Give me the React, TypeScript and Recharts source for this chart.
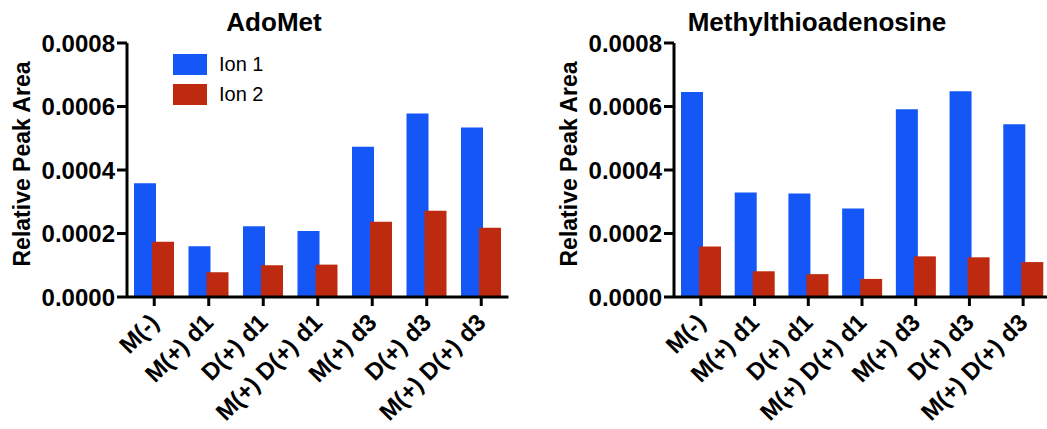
import React from 'react';
import { BarChart, Bar, XAxis, YAxis, Legend } from 'recharts';

const categories = ['M(-)', 'M(+) d1', 'D(+) d1', 'M(+) D(+) d1', 'M(+) d3', 'D(+) d3', 'M(+) D(+) d3'];

const adoMetIon1 = [0.000358, 0.00016, 0.000223, 0.000208, 0.000473, 0.000578, 0.000534];
const adoMetIon2 = [0.000174, 0.000078, 0.0001, 0.000102, 0.000237, 0.000272, 0.000218];

const mtaIon1 = [0.000646, 0.000329, 0.000326, 0.000279, 0.000591, 0.000648, 0.000544];
const mtaIon2 = [0.000159, 0.000081, 0.000072, 0.000057, 0.000128, 0.000125, 0.00011];

const yTicks = [0, 0.0002, 0.0004, 0.0006, 0.0008];

const FONT = '"Liberation Sans", Arial, Helvetica, sans-serif';
const BLUE = '#1457f6';
const RED = '#bd2a0f';

const buildRows = (ion1: number[], ion2: number[]) =>
    categories.map((name, i) => ({ name, ion1: ion1[i], ion2: ion2[i] }));

const AngledTick = (props: any) => {
    const { x, y, payload } = props;
    return (
        <g transform={`translate(${x + 6},${y + 16})`}>
            <text
                transform="rotate(-45)"
                textAnchor="end"
                fontSize={24}
                fontWeight="bold"
                fontFamily={FONT}
                fill="#000"
            >
                {payload.value}
            </text>
        </g>
    );
};

const YLabel = (props: any) => {
    const { x, y, height } = props.viewBox;
    const cx = x + 22;
    const cy = y + height / 2 - 6;
    return (
        <text
            x={cx}
            y={cy}
            transform={`rotate(-90, ${cx}, ${cy})`}
            textAnchor="middle"
            dominantBaseline="central"
            fontSize={23}
            fontWeight="bold"
            fontFamily={FONT}
            fill="#000"
        >
            Relative Peak Area
        </text>
    );
};

const LegendBox = (props: any) => (
    <div style={{ fontFamily: FONT }}>
        {(props.payload || []).map((p: any) => (
            <div key={p.value} style={{ display: 'flex', alignItems: 'center', height: 30 }}>
                <div style={{ width: 34, height: 21, background: p.color }} />
                <span style={{ marginLeft: 12, fontSize: 20, color: '#000' }}>{p.value}</span>
            </div>
        ))}
    </div>
);

const Panel: React.FC<{ rows: any[]; width: number; right: number; legend?: boolean }> = ({ rows, width, right, legend }) => (
    <BarChart
        width={width}
        height={429}
        data={rows}
        margin={{ top: 43, right, bottom: 0, left: 0 }}
        barSize={22}
        barGap={-4}
        style={{ fontFamily: FONT }}
    >
        <XAxis
            dataKey="name"
            height={132}
            interval={0}
            tick={<AngledTick />}
            tickSize={9}
            axisLine={{ stroke: '#000', strokeWidth: 3 }}
            tickLine={{ stroke: '#000', strokeWidth: 3 }}
        />
        <YAxis
            width={127}
            domain={[0, 0.0008]}
            ticks={yTicks}
            interval={0}
            tickFormatter={(v: number) => v.toFixed(4)}
            tick={{ fontSize: 24, fontWeight: 'bold', fill: '#000', fontFamily: FONT }}
            tickSize={10}
            axisLine={{ stroke: '#000', strokeWidth: 3 }}
            tickLine={{ stroke: '#000', strokeWidth: 3 }}
            label={<YLabel />}
        />
        {legend && (
            <Legend
                layout="vertical"
                align="center"
                verticalAlign="middle"
                content={<LegendBox />}
                wrapperStyle={{ top: 49, left: 173, width: 'auto' }}
            />
        )}
        <Bar dataKey="ion1" name="Ion 1" fill={BLUE} isAnimationActive={false} />
        <Bar dataKey="ion2" name="Ion 2" fill={RED} isAnimationActive={false} />
    </BarChart>
);

const titleStyle: React.CSSProperties = {
    position: 'absolute',
    top: 9,
    transform: 'translateX(-50%)',
    fontFamily: FONT,
    fontWeight: 'bold',
    fontSize: 26,
    lineHeight: '26px',
    whiteSpace: 'nowrap',
    color: '#000',
};

export default function App() {
    return (
        <div style={{ position: 'relative', width: 1047, height: 429, overflow: 'hidden', background: '#fff' }}>
            <style>{'html,body{margin:0;padding:0;overflow:hidden}'}</style>
            <div style={{ position: 'absolute', left: 0, top: 0, width: 520, height: 429 }}>
                <Panel rows={buildRows(adoMetIon1, adoMetIon2)} width={520} right={11.5} legend />
            </div>
            {/* right panel runs past the page edge, as in the source figure */}
            <div style={{ position: 'absolute', left: 547, top: 0, width: 520, height: 429 }}>
                <Panel rows={buildRows(mtaIon1, mtaIon2)} width={520} right={17} />
            </div>
            <div style={{ ...titleStyle, left: 274 }}>AdoMet</div>
            <div style={{ ...titleStyle, left: 817 }}>Methylthioadenosine</div>
        </div>
    );
}
